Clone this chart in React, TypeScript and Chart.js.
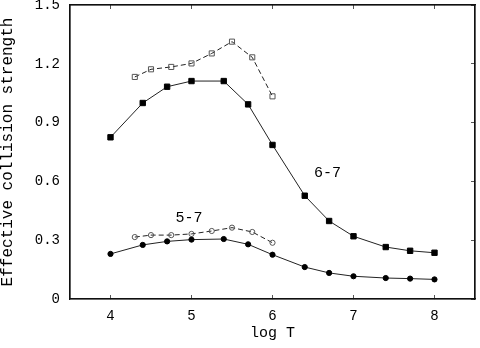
import React, { useEffect, useRef } from "react";
import { Chart, registerables } from "chart.js";

Chart.register(...registerables);

// log T grid for the full calculations (solid curves)
const logTFull = [4.0, 4.398, 4.699, 5.0, 5.398, 5.699, 6.0, 6.398, 6.699, 7.0, 7.398, 7.699, 8.0];
// log T grid for the comparison calculations (dashed curves)
const logTPartial = [4.3, 4.5, 4.75, 5.0, 5.25, 5.5, 5.75, 6.0];

const ups67Solid = [0.825, 1.0, 1.083, 1.112, 1.112, 0.993, 0.786, 0.527, 0.398, 0.32, 0.265, 0.246, 0.236];
const ups67Dashed = [1.133, 1.172, 1.184, 1.202, 1.253, 1.313, 1.233, 1.034];
const ups57Solid = [0.23, 0.276, 0.294, 0.303, 0.306, 0.279, 0.226, 0.163, 0.133, 0.116, 0.107, 0.104, 0.1];
const ups57Dashed = [0.316, 0.326, 0.326, 0.332, 0.347, 0.364, 0.342, 0.287];

const xTicks = [4, 5, 6, 7, 8];
const yTicks = [0, 0.3, 0.6, 0.9, 1.2, 1.5];
const xRange = [3.5, 8.5];
const yRange = [0, 1.5];

const curveLabels = [
  { text: "6-7", x: 6.68, y: 0.641 },
  { text: "5-7", x: 4.97, y: 0.413 },
];

const FONT = "'Liberation Mono', 'DejaVu Sans Mono', monospace";

const pts = (xs: number[], ys: number[]) => xs.map((x, i) => ({ x, y: ys[i] }));

const framePlugin = {
  id: "frameAndLabels",
  afterDraw(chart: any) {
    const ctx = chart.ctx;
    const xs = chart.scales.x;
    const ys = chart.scales.y;
    const L = xs.getPixelForValue(xRange[0]);
    const R = xs.getPixelForValue(xRange[1]);
    const T = ys.getPixelForValue(yRange[1]);
    const B = ys.getPixelForValue(yRange[0]);
    ctx.save();
    ctx.setLineDash([]);
    ctx.strokeStyle = "#111111";
    ctx.lineWidth = 1.2;
    ctx.beginPath();
    ctx.moveTo(L, T);
    ctx.lineTo(R, T);
    ctx.lineTo(R, B);
    ctx.lineTo(L, B);
    ctx.closePath();
    ctx.stroke();
    ctx.fillStyle = "#000000";
    ctx.font = `15px ${FONT}`;
    ctx.textAlign = "center";
    ctx.textBaseline = "middle";
    curveLabels.forEach((l) => {
      ctx.fillText(l.text, xs.getPixelForValue(l.x), ys.getPixelForValue(l.y));
    });
    ctx.restore();
  },
};

const innerGrid = {
  display: true,
  drawOnChartArea: true,
  drawTicks: true,
  tickLength: -4,
  color: "rgba(255,255,255,0)",
  tickColor: "#555",
  lineWidth: 1,
  tickWidth: 1,
};
const frameBorder = { display: true, color: "#111111", width: 1.2 };

export default function App() {
  const ref = useRef<HTMLCanvasElement | null>(null);
  useEffect(() => {
    if (!ref.current) return;
    const line = "#222";
    const chart = new Chart(ref.current, {
      type: "scatter",
      data: {
        datasets: [
          {
            data: pts(logTFull, ups67Solid),
            showLine: true,
            borderColor: line,
            borderWidth: 1,
            pointStyle: "rect",
            pointRadius: 3.8,
            pointBackgroundColor: "#000",
            pointBorderColor: "#000",
            pointBorderWidth: 1,
          },
          {
            data: pts(logTPartial, ups67Dashed),
            showLine: true,
            borderColor: line,
            borderWidth: 1,
            borderDash: [5, 3],
            pointStyle: "rect",
            pointRadius: 3.6,
            pointBackgroundColor: "rgba(0,0,0,0)",
            pointBorderColor: "#555",
            pointBorderWidth: 1,
          },
          {
            data: pts(logTFull, ups57Solid),
            showLine: true,
            borderColor: line,
            borderWidth: 1,
            pointStyle: "circle",
            pointRadius: 2.6,
            pointBackgroundColor: "#000",
            pointBorderColor: "#000",
            pointBorderWidth: 1,
          },
          {
            data: pts(logTPartial, ups57Dashed),
            showLine: true,
            borderColor: line,
            borderWidth: 1,
            borderDash: [5, 3],
            pointStyle: "circle",
            pointRadius: 2.6,
            pointBackgroundColor: "rgba(0,0,0,0)",
            pointBorderColor: "#555",
            pointBorderWidth: 1,
          },
        ],
      },
      options: {
        responsive: false,
        animation: false,
        layout: { padding: { top: 5, right: 1, left: 0, bottom: 0 } },
        plugins: { legend: { display: false }, tooltip: { enabled: false } },
        scales: {
          x: {
            type: "linear",
            position: "bottom",
            min: xRange[0],
            max: xRange[1],
            afterBuildTicks: (s: any) => {
              s.ticks = xTicks.map((v) => ({ value: v }));
            },
            afterFit: (s: any) => {
              s.height = 49;
              s.paddingLeft = 0;
              s.paddingRight = 0;
            },
            grid: innerGrid,
            border: frameBorder,
            ticks: {
              color: "#000",
              font: { family: FONT, size: 14 },
              padding: 13,
              maxRotation: 0,
              callback: (v: any) => String(v),
            },
            title: {
              display: true,
              text: "log T",
              color: "#000",
              font: { family: FONT, size: 15, lineHeight: 1 },
              padding: { top: 0, bottom: 7 },
            },
          },
          x2: {
            type: "linear",
            axis: "x",
            position: "top",
            min: xRange[0],
            max: xRange[1],
            afterBuildTicks: (s: any) => {
              s.ticks = xTicks.map((v) => ({ value: v }));
            },
            afterFit: (s: any) => {
              s.height = 0;
              s.paddingLeft = 0;
              s.paddingRight = 0;
            },
            grid: innerGrid,
            border: frameBorder,
            ticks: { display: false },
          },
          y: {
            type: "linear",
            position: "left",
            min: yRange[0],
            max: yRange[1],
            afterBuildTicks: (s: any) => {
              s.ticks = yTicks.map((v) => ({ value: v }));
            },
            afterFit: (s: any) => {
              s.width = 70;
              s.paddingTop = 0;
              s.paddingBottom = 0;
            },
            grid: { display: true, drawOnChartArea: true, drawTicks: false, color: "rgba(255,255,255,0)" },
            border: frameBorder,
            ticks: {
              color: "#000",
              font: { family: FONT, size: 14 },
              padding: 10,
              callback: (v: any) => (v === 0 ? "0" : Number(v).toFixed(1)),
            },
            title: {
              display: true,
              text: "Effective collision strength",
              color: "#000",
              font: { family: FONT, size: 16, lineHeight: 1 },
              padding: { top: 0, bottom: 0 },
            },
          },
          y2: {
            type: "linear",
            axis: "y",
            position: "right",
            min: yRange[0],
            max: yRange[1],
            afterBuildTicks: (s: any) => {
              s.ticks = yTicks.map((v) => ({ value: v }));
            },
            afterFit: (s: any) => {
              s.width = 0;
              s.paddingTop = 0;
              s.paddingBottom = 0;
            },
            grid: innerGrid,
            border: frameBorder,
            ticks: { display: false },
          },
        },
      },
      plugins: [framePlugin],
    });
    return () => chart.destroy();
  }, []);
  return (
    <div style={{ position: "fixed", left: 0, top: 0, width: 480, height: 348, background: "#fff" }}>
      <canvas ref={ref} width={480} height={348} />
    </div>
  );
}
